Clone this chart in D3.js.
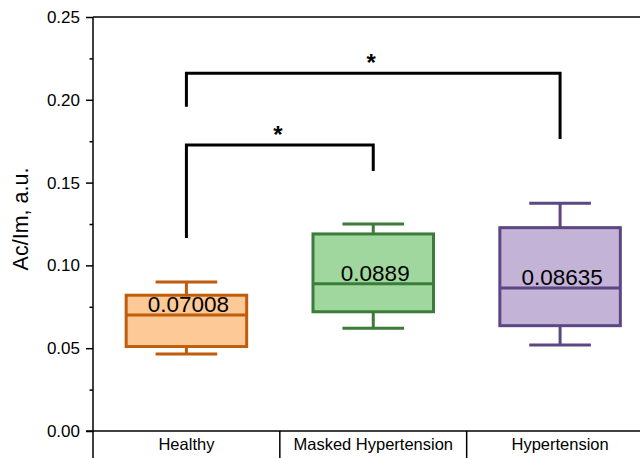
<!DOCTYPE html>
<html><head><meta charset="utf-8">
<script src="https://cdn.jsdelivr.net/npm/d3@7"></script>
<style>html,body{margin:0;padding:0;background:#fff;overflow:hidden}svg{display:block}</style>
</head><body>
<svg id="c" width="640" height="458"></svg>
<script>
const categories = ["Healthy", "Masked Hypertension", "Hypertension"];
const whiskerLow  = [0.0465, 0.062, 0.052];
const q1          = [0.051, 0.072, 0.0636];
const median      = [0.07008, 0.0889, 0.08635];
const q3          = [0.082, 0.119, 0.1228];
const whiskerHigh = [0.090, 0.125, 0.1375];
const medianLabels = ["0.07008", "0.0889", "0.08635"];
const yTicks = [0, 0.05, 0.10, 0.15, 0.20, 0.25];
const yMinorTicks = [0.025, 0.075, 0.125, 0.175, 0.225];
// significance brackets
const bracketFrom = [0, 0];
const bracketTo   = [1, 2];
const bracketTop  = [0.1727, 0.216];
const bracketLegFrom = [0.1165, 0.1958];
const bracketLegTo   = [0.157, 0.1763];
const bracketLabels  = ["*", "*"];

const fills   = ["#FDC997", "#A0D79E", "#C2B3D7"];
const strokes = ["#C05D0D", "#3A7C38", "#5C4684"];

const svg = d3.select("#c");
const font = "Arial, 'Liberation Sans', sans-serif";
const x = d3.scaleBand().domain(categories).range([93, 653.5]).paddingInner(0).paddingOuter(0);
const y = d3.scaleLinear().domain([0, 0.25]).range([431, 17]);
const boxW = x.bandwidth() * 0.645;
const capW = x.bandwidth() * 0.33;

svg.append("line").attr("x1", 93).attr("x2", 640).attr("y1", y(0.25)).attr("y2", y(0.25))
  .attr("stroke", "#000").attr("stroke-width", 1.5);

const yAxis = d3.axisLeft(y).tickValues(yTicks).tickFormat(d3.format(".2f")).tickSize(7).tickPadding(6);
const gy = svg.append("g").attr("transform", "translate(93,0)").call(yAxis);
gy.select(".domain").remove();
gy.selectAll(".tick line").attr("stroke", "#000").attr("stroke-width", 1.5);
gy.selectAll(".tick text").attr("font-family", font).attr("font-size", 17).attr("fill", "#000");
const yMinor = d3.axisLeft(y).tickValues(yMinorTicks).tickFormat("").tickSize(3.5);
const gym = svg.append("g").attr("transform", "translate(93,0)").call(yMinor);
gym.select(".domain").remove();
gym.selectAll(".tick line").attr("stroke", "#000").attr("stroke-width", 1.5);
svg.append("line").attr("x1", 93).attr("x2", 93).attr("y1", y(0.25)).attr("y2", 458)
  .attr("stroke", "#000").attr("stroke-width", 1.5);

svg.append("line").attr("x1", 86).attr("x2", 640).attr("y1", y(0)).attr("y2", y(0))
  .attr("stroke", "#000").attr("stroke-width", 1.5);
const xAxis = d3.axisBottom(x).tickSize(0).tickPadding(7);
const gx = svg.append("g").attr("transform", `translate(0,${y(0)})`).call(xAxis);
gx.select(".domain").remove();
gx.selectAll(".tick text").attr("font-family", font).attr("font-size", 16.5).attr("fill", "#000");
categories.slice(1).forEach(c => {
  svg.append("line").attr("x1", x(c)).attr("x2", x(c)).attr("y1", y(0)).attr("y2", 458)
    .attr("stroke", "#000").attr("stroke-width", 1.5);
});

svg.append("text").attr("transform", `translate(28,219) rotate(-90)`)
  .attr("text-anchor", "middle").attr("font-family", font).attr("font-size", 21.5).attr("fill", "#000")
  .text("Ac/Im, a.u.");

categories.forEach((c, i) => {
  const cx = x(c) + x.bandwidth() / 2;
  const g = svg.append("g");
  const st = strokes[i];
  g.append("line").attr("x1", cx).attr("x2", cx).attr("y1", y(whiskerHigh[i])).attr("y2", y(q3[i]))
    .attr("stroke", st).attr("stroke-width", 3);
  g.append("line").attr("x1", cx).attr("x2", cx).attr("y1", y(q1[i])).attr("y2", y(whiskerLow[i]))
    .attr("stroke", st).attr("stroke-width", 3);
  g.append("line").attr("x1", cx - capW / 2).attr("x2", cx + capW / 2).attr("y1", y(whiskerHigh[i])).attr("y2", y(whiskerHigh[i]))
    .attr("stroke", st).attr("stroke-width", 3);
  g.append("line").attr("x1", cx - capW / 2).attr("x2", cx + capW / 2).attr("y1", y(whiskerLow[i])).attr("y2", y(whiskerLow[i]))
    .attr("stroke", st).attr("stroke-width", 3);
  g.append("rect").attr("x", cx - boxW / 2).attr("width", boxW)
    .attr("y", y(q3[i])).attr("height", y(q1[i]) - y(q3[i]))
    .attr("fill", fills[i]).attr("stroke", st).attr("stroke-width", 3);
  g.append("line").attr("x1", cx - boxW / 2).attr("x2", cx + boxW / 2).attr("y1", y(median[i])).attr("y2", y(median[i]))
    .attr("stroke", st).attr("stroke-width", 3);
  g.append("text").attr("x", cx + 2).attr("y", y(median[i]) - 3)
    .attr("text-anchor", "middle").attr("font-family", font).attr("font-size", 22.5).attr("fill", "#000")
    .text(medianLabels[i]);
});

bracketFrom.forEach((f, i) => {
  const x1 = x(categories[f]) + x.bandwidth() / 2;
  const x2 = x(categories[bracketTo[i]]) + x.bandwidth() / 2;
  const path = d3.path();
  path.moveTo(x1, y(bracketLegFrom[i]));
  path.lineTo(x1, y(bracketTop[i]));
  path.lineTo(x2, y(bracketTop[i]));
  path.lineTo(x2, y(bracketLegTo[i]));
  svg.append("path").attr("d", path.toString()).attr("fill", "none")
    .attr("stroke", "#000").attr("stroke-width", 3);
  svg.append("text").attr("x", (x1 + x2) / 2 - 2).attr("y", y(bracketTop[i]) - 2)
    .attr("text-anchor", "middle").attr("font-family", font).attr("font-size", 24).attr("font-weight", "bold").attr("fill", "#000")
    .text(bracketLabels[i]);
});
</script>
</body></html>
